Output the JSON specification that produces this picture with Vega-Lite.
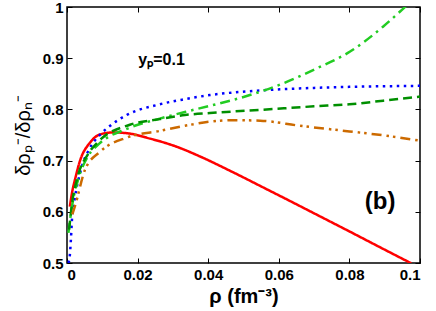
{
  "$schema": "https://vega.github.io/schema/vega-lite/v6.json",
  "width": 353,
  "height": 256,
  "autosize": {"type": "none"},
  "padding": {"left": 67, "top": 7, "right": 16, "bottom": 48},
  "background": "white",
  "config": {
    "view": {"stroke": "black", "strokeWidth": 1.5},
    "font": "Liberation Sans",
    "axis": {
      "grid": false,
      "domain": false,
      "tickColor": "black",
      "tickSize": -5,
      "labelFont": "Liberation Sans",
      "labelFontWeight": "bold",
      "labelFontSize": 15,
      "labelColor": "black",
      "titleColor": "black",
      "titleFont": "Liberation Sans"
    }
  },
  "datasets": {
    "curves": [
      {"series": "red", "x": 0.0008, "y": 0.61},
      {"series": "red", "x": 0.0015, "y": 0.64},
      {"series": "red", "x": 0.0023, "y": 0.664},
      {"series": "red", "x": 0.0037, "y": 0.7},
      {"series": "red", "x": 0.0065, "y": 0.735},
      {"series": "red", "x": 0.0093, "y": 0.751},
      {"series": "red", "x": 0.013, "y": 0.755},
      {"series": "red", "x": 0.017, "y": 0.7535},
      {"series": "red", "x": 0.0235, "y": 0.743},
      {"series": "red", "x": 0.0311, "y": 0.727},
      {"series": "red", "x": 0.0377, "y": 0.708},
      {"series": "red", "x": 0.0471, "y": 0.677},
      {"series": "red", "x": 0.0566, "y": 0.644},
      {"series": "red", "x": 0.0632, "y": 0.621},
      {"series": "red", "x": 0.07, "y": 0.597},
      {"series": "red", "x": 0.0802, "y": 0.561},
      {"series": "red", "x": 0.09, "y": 0.526},
      {"series": "red", "x": 0.0965, "y": 0.503},
      {"series": "red", "x": 0.0975, "y": 0.4995},
      {"series": "blue", "x": 0.0004, "y": 0.5},
      {"series": "blue", "x": 0.0008, "y": 0.515},
      {"series": "blue", "x": 0.0011, "y": 0.545},
      {"series": "blue", "x": 0.0014, "y": 0.584},
      {"series": "blue", "x": 0.0023, "y": 0.63},
      {"series": "blue", "x": 0.0037, "y": 0.676},
      {"series": "blue", "x": 0.0065, "y": 0.725},
      {"series": "blue", "x": 0.0093, "y": 0.75},
      {"series": "blue", "x": 0.0122, "y": 0.768},
      {"series": "blue", "x": 0.0169, "y": 0.789},
      {"series": "blue", "x": 0.0263, "y": 0.81},
      {"series": "blue", "x": 0.0334, "y": 0.82},
      {"series": "blue", "x": 0.0405, "y": 0.828},
      {"series": "blue", "x": 0.0547, "y": 0.837},
      {"series": "blue", "x": 0.07, "y": 0.842},
      {"series": "blue", "x": 0.08, "y": 0.844},
      {"series": "blue", "x": 0.1, "y": 0.846},
      {"series": "lightgreen", "x": 0.0004, "y": 0.559},
      {"series": "lightgreen", "x": 0.0014, "y": 0.61},
      {"series": "lightgreen", "x": 0.0031, "y": 0.662},
      {"series": "lightgreen", "x": 0.0059, "y": 0.708},
      {"series": "lightgreen", "x": 0.0093, "y": 0.734},
      {"series": "lightgreen", "x": 0.0169, "y": 0.762},
      {"series": "lightgreen", "x": 0.0263, "y": 0.782},
      {"series": "lightgreen", "x": 0.0334, "y": 0.795},
      {"series": "lightgreen", "x": 0.0405, "y": 0.807},
      {"series": "lightgreen", "x": 0.0518, "y": 0.828},
      {"series": "lightgreen", "x": 0.0613, "y": 0.851},
      {"series": "lightgreen", "x": 0.0707, "y": 0.88},
      {"series": "lightgreen", "x": 0.0802, "y": 0.913},
      {"series": "lightgreen", "x": 0.0896, "y": 0.962},
      {"series": "lightgreen", "x": 0.0948, "y": 0.994},
      {"series": "lightgreen", "x": 0.097, "y": 1.008},
      {"series": "darkgreen", "x": 0.0006, "y": 0.565},
      {"series": "darkgreen", "x": 0.0014, "y": 0.615},
      {"series": "darkgreen", "x": 0.003, "y": 0.668},
      {"series": "darkgreen", "x": 0.006, "y": 0.713},
      {"series": "darkgreen", "x": 0.009, "y": 0.738},
      {"series": "darkgreen", "x": 0.0178, "y": 0.77},
      {"series": "darkgreen", "x": 0.0263, "y": 0.781},
      {"series": "darkgreen", "x": 0.0334, "y": 0.789},
      {"series": "darkgreen", "x": 0.0405, "y": 0.793},
      {"series": "darkgreen", "x": 0.0547, "y": 0.799},
      {"series": "darkgreen", "x": 0.07, "y": 0.806},
      {"series": "darkgreen", "x": 0.08, "y": 0.81},
      {"series": "darkgreen", "x": 0.0896, "y": 0.817},
      {"series": "darkgreen", "x": 0.1, "y": 0.825},
      {"series": "orange", "x": 0.0015, "y": 0.595},
      {"series": "orange", "x": 0.0023, "y": 0.612},
      {"series": "orange", "x": 0.0051, "y": 0.682},
      {"series": "orange", "x": 0.0093, "y": 0.717},
      {"series": "orange", "x": 0.0169, "y": 0.745},
      {"series": "orange", "x": 0.0263, "y": 0.758},
      {"series": "orange", "x": 0.0334, "y": 0.768},
      {"series": "orange", "x": 0.0405, "y": 0.776},
      {"series": "orange", "x": 0.047, "y": 0.779},
      {"series": "orange", "x": 0.0547, "y": 0.778},
      {"series": "orange", "x": 0.066, "y": 0.768},
      {"series": "orange", "x": 0.08, "y": 0.757},
      {"series": "orange", "x": 0.09, "y": 0.749},
      {"series": "orange", "x": 0.1, "y": 0.739}
    ],
    "labels": [
      {"x": 0.0268, "y": 0.896, "label": "yₚ=0.1", "size": 16},
      {"x": 0.0887, "y": 0.62, "label": "(b)", "size": 24}
    ]
  },
  "resolve": {"axis": {"x": "independent", "y": "independent"}},
  "layer": [
    {
      "data": {"name": "curves"},
      "mark": {"type": "line", "strokeWidth": 2.5, "interpolate": "monotone", "clip": true, "strokeCap": "butt"},
      "encoding": {
        "x": {
          "field": "x", "type": "quantitative",
          "scale": {"domain": [0, 0.1], "nice": false, "zero": false},
          "axis": {"orient": "bottom", "values": [0, 0.02, 0.04, 0.06, 0.08, 0.1], "format": "~g", "labelPadding": 9,
                   "title": "ρ (fm⁻³)", "titleFontSize": 20, "titleFontWeight": "bold", "titlePadding": 4}
        },
        "y": {
          "field": "y", "type": "quantitative",
          "scale": {"domain": [0.5, 1], "nice": false, "zero": false},
          "axis": {"orient": "left", "values": [0.5, 0.6, 0.7, 0.8, 0.9, 1], "format": "~g", "labelPadding": 9,
                   "title": "δρₚ⁻/δρₙ⁻", "titleFontSize": 20, "titleFontWeight": "normal", "titlePadding": 9}
        },
        "color": {
          "field": "series", "type": "nominal", "legend": null,
          "scale": {"domain": ["red", "blue", "lightgreen", "darkgreen", "orange"],
                    "range": ["#ff0000", "#0000ff", "#22cc22", "#008f00", "#cc6a00"]}
        },
        "strokeDash": {
          "field": "series", "type": "nominal", "legend": null,
          "scale": {"domain": ["red", "blue", "lightgreen", "darkgreen", "orange"],
                    "range": [[1, 0], [2.5, 4.5], [10, 5, 2.5, 5], [9, 5], [10, 5, 2.5, 4, 2.5, 5]]}
        }
      }
    },
    {
      "data": {"name": "labels"},
      "mark": {"type": "text", "fontWeight": "bold", "font": "Liberation Sans", "color": "black", "align": "center", "baseline": "middle"},
      "encoding": {
        "x": {"field": "x", "type": "quantitative",
              "axis": {"orient": "top", "values": [0, 0.02, 0.04, 0.06, 0.08, 0.1], "labels": false, "title": null}},
        "y": {"field": "y", "type": "quantitative",
              "axis": {"orient": "right", "values": [0.5, 0.6, 0.7, 0.8, 0.9, 1], "labels": false, "title": null}},
        "text": {"field": "label"},
        "size": {"field": "size", "type": "quantitative", "scale": null}
      }
    }
  ]
}
